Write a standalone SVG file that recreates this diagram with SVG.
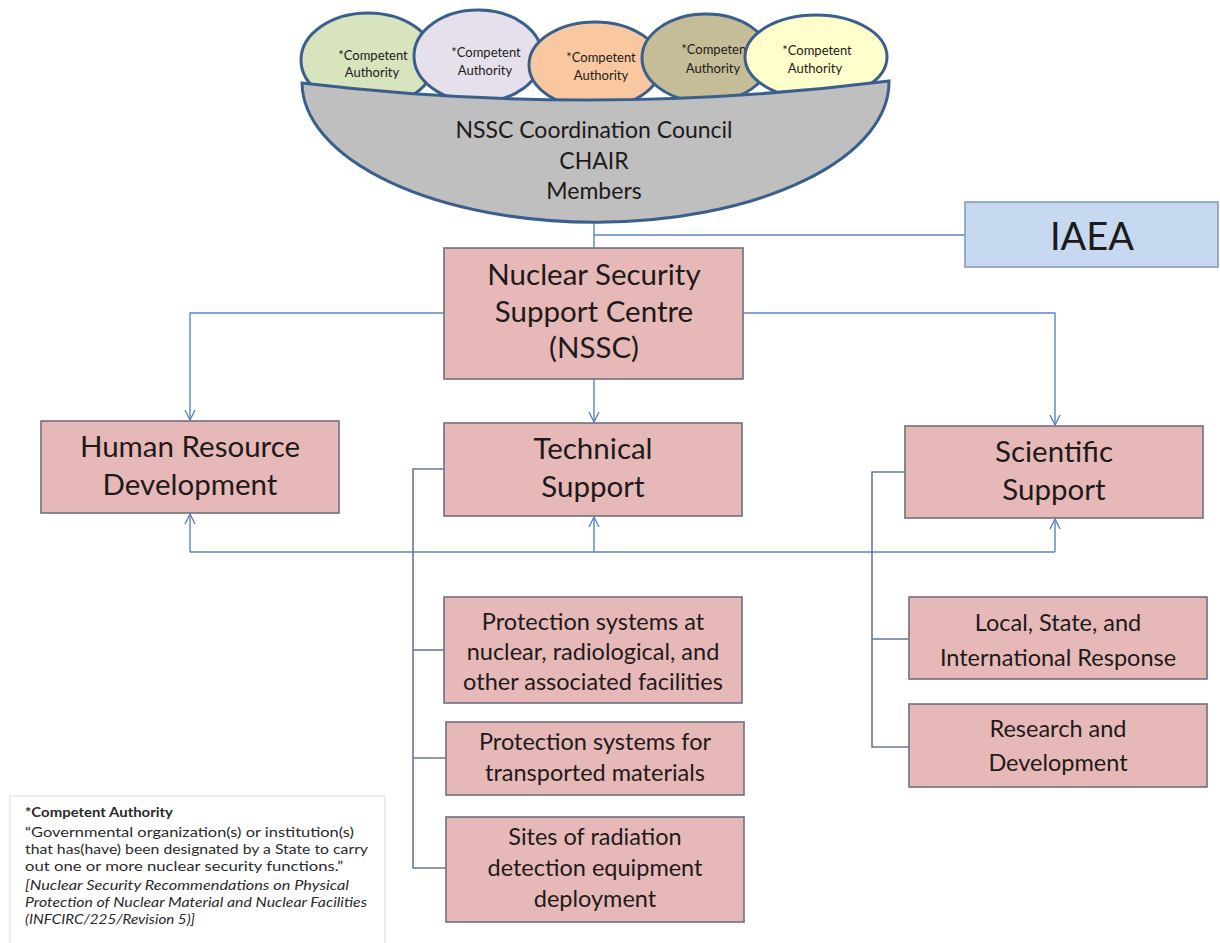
<svg xmlns="http://www.w3.org/2000/svg" width="1220" height="943" viewBox="0 0 1220 943">
<defs>
<style>
text{font-family:Lato,"Liberation Sans",sans-serif;fill:#1e1a1a;text-anchor:middle}
.box{fill:#E6B9B8;stroke:#70707e;stroke-width:1.6}
.ca{stroke:#3B5F8C;stroke-width:3}
.cat{font-size:13px}
.main{font-size:29.5px}
.sub{font-size:23.5px}
.arr{fill:none;stroke:#5A86BE;stroke-width:1.4}
.tree{fill:none;stroke:#65789A;stroke-width:1.6}
.leg{font-size:13.5px;text-anchor:start;fill:#2a2a2a}
</style>
<marker id="ah" viewBox="0 0 12 12" refX="11" refY="6" markerWidth="12" markerHeight="12" markerUnits="userSpaceOnUse" orient="auto">
<path d="M1,1 L11,6 L1,11" fill="none" stroke="#5A86BE" stroke-width="1.4"/>
</marker>
</defs>
<rect width="1220" height="943" fill="#ffffff"/>

<g id="connectors">
<path class="arr" d="M594,222 V248"/>
<path class="arr" d="M594,235 H965"/>
<path class="arr" d="M444,313 H190 V420" marker-end="url(#ah)"/>
<path class="arr" d="M594,379 V422" marker-end="url(#ah)"/>
<path class="arr" d="M743,313 H1055 V425" marker-end="url(#ah)"/>
<path class="arr" d="M190,552 H1055"/>
<path class="arr" d="M190,552 V514" marker-end="url(#ah)"/>
<path class="arr" d="M594,552 V517" marker-end="url(#ah)"/>
<path class="arr" d="M1055,552 V519" marker-end="url(#ah)"/>
<path class="tree" d="M444,469 H413 V868 H446"/>
<path class="tree" d="M413,650 H444"/>
<path class="tree" d="M413,758 H446"/>
<path class="tree" d="M905,472 H872 V747 H909"/>
<path class="tree" d="M872,639 H909"/>
</g>

<g id="ca1">
<ellipse cx="368" cy="60" rx="67" ry="47" fill="#D7E4BD" class="ca"/>
<text class="cat" x="373" y="60">*Competent</text>
<text class="cat" x="372" y="77">Authority</text>
</g>
<g id="ca2">
<ellipse cx="478" cy="56" rx="64" ry="46" fill="#E6E0EC" class="ca"/>
<text class="cat" x="486" y="57">*Competent</text>
<text class="cat" x="485" y="75">Authority</text>
</g>
<g id="ca3">
<ellipse cx="595" cy="65" rx="66" ry="43" fill="#FAC8A0" class="ca"/>
<text class="cat" x="601" y="62">*Competent</text>
<text class="cat" x="601" y="80">Authority</text>
</g>
<g id="ca4">
<ellipse cx="706" cy="58" rx="64" ry="44" fill="#C4BD97" class="ca"/>
<text class="cat" x="716" y="54">*Competent</text>
<text class="cat" x="713" y="73">Authority</text>
</g>
<g id="ca5">
<ellipse cx="816" cy="57" rx="71" ry="42" fill="#FFFFCC" class="ca"/>
<text class="cat" x="817" y="55">*Competent</text>
<text class="cat" x="815" y="73">Authority</text>
</g>

<g id="council">
<path d="M302,83 Q595,118 889,81 A293,140 0 0 1 302,83 Z" fill="#BFBFBF" stroke="#3B5F8C" stroke-width="3"/>
<text x="594" y="138" font-size="23">NSSC Coordination Council</text>
<text x="594" y="169" font-size="23">CHAIR</text>
<text x="594" y="199" font-size="23">Members</text>
</g>

<g id="iaea">
<rect x="965" y="202" width="253" height="65" fill="#C6D9F1" stroke="#8097B8" stroke-width="1.5"/>
<text x="1092" y="250" font-size="38">IAEA</text>
</g>

<g id="nssc">
<rect class="box" x="444" y="248" width="299" height="131"/>
<text class="main" x="594" y="285">Nuclear Security</text>
<text class="main" x="594" y="322">Support Centre</text>
<text class="main" x="594" y="358">(NSSC)</text>
</g>

<g id="hrd">
<rect class="box" x="41" y="421" width="298" height="92"/>
<text class="main" x="190" y="457">Human Resource</text>
<text class="main" x="190" y="495">Development</text>
</g>

<g id="tech">
<rect class="box" x="444" y="423" width="298" height="93"/>
<text class="main" x="593" y="459">Technical</text>
<text class="main" x="593" y="497">Support</text>
</g>

<g id="sci">
<rect class="box" x="905" y="426" width="298" height="92"/>
<text class="main" x="1054" y="462">Scientific</text>
<text class="main" x="1054" y="500">Support</text>
</g>

<g id="prot-fac">
<rect class="box" x="444" y="597" width="298" height="106"/>
<text class="sub" x="593" y="630">Protection systems at</text>
<text class="sub" x="593" y="660">nuclear, radiological, and</text>
<text class="sub" x="593" y="690">other associated facilities</text>
</g>

<g id="prot-trans">
<rect class="box" x="446" y="722" width="298" height="73"/>
<text class="sub" x="595" y="750">Protection systems for</text>
<text class="sub" x="595" y="781">transported materials</text>
</g>

<g id="sites">
<rect class="box" x="446" y="817" width="298" height="105"/>
<text class="sub" x="595" y="845">Sites of radiation</text>
<text class="sub" x="595" y="876">detection equipment</text>
<text class="sub" x="595" y="907">deployment</text>
</g>

<g id="response">
<rect class="box" x="909" y="597" width="298" height="82"/>
<text class="sub" x="1058" y="631">Local, State, and</text>
<text class="sub" x="1058" y="666">International  Response</text>
</g>

<g id="rnd">
<rect class="box" x="909" y="704" width="298" height="83"/>
<text class="sub" x="1058" y="737">Research  and</text>
<text class="sub" x="1058" y="771">Development</text>
</g>

<g id="legend">
<rect x="10" y="796" width="375" height="160" fill="#ffffff" stroke="#DCE2EA" stroke-width="1.2"/>
<text class="leg" x="25" y="817" font-weight="bold" textLength="148" lengthAdjust="spacingAndGlyphs">*Competent  Authority</text>
<text class="leg" x="25" y="837" textLength="329" lengthAdjust="spacingAndGlyphs">“Governmental organization(s) or institution(s)</text>
<text class="leg" x="25" y="854" textLength="343" lengthAdjust="spacingAndGlyphs">that has(have) been designated by a State to carry</text>
<text class="leg" x="25" y="871" textLength="318" lengthAdjust="spacingAndGlyphs">out one or more nuclear security functions.”</text>
<text class="leg" x="25" y="890" font-style="italic" textLength="324" lengthAdjust="spacingAndGlyphs">[Nuclear Security Recommendations on Physical</text>
<text class="leg" x="25" y="907" font-style="italic" textLength="342" lengthAdjust="spacingAndGlyphs">Protection of Nuclear Material and Nuclear Facilities</text>
<text class="leg" x="25" y="924" font-style="italic" textLength="170" lengthAdjust="spacingAndGlyphs">(INFCIRC/225/Revision 5)]</text>
</g>
</svg>
